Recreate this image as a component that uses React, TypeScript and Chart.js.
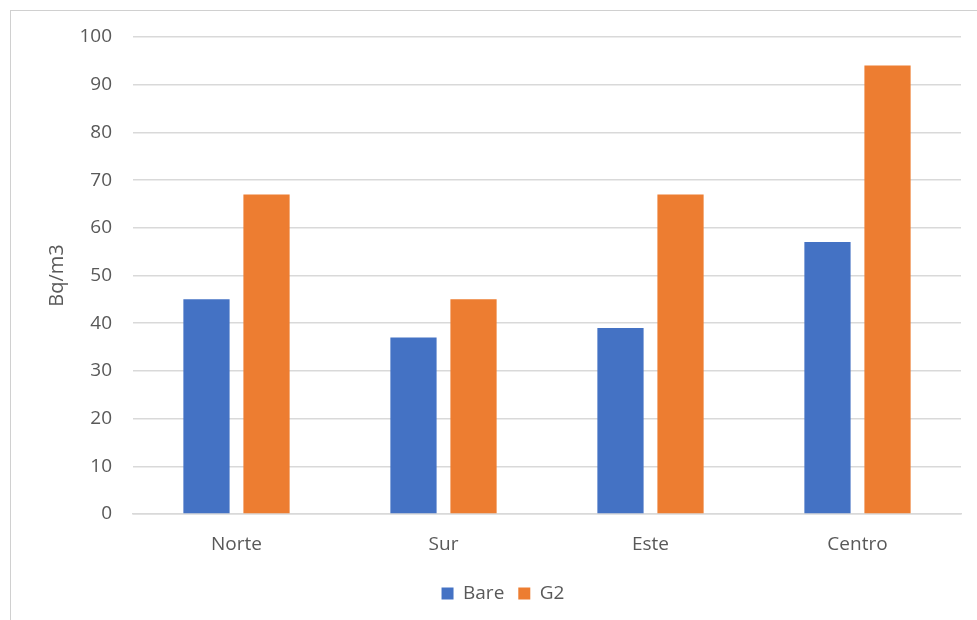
import React, { useEffect, useRef } from "react";
import { Chart, registerables } from "chart.js";

Chart.register(...registerables);

const categories = ["Norte", "Sur", "Este", "Centro"];
const bareValues = [45, 37, 39, 57];
const g2Values = [67, 45, 67, 94];
const yTicks = { min: 0, max: 100, step: 10 };
const yTitle = "Bq/m3";

const FONT = "'Open Sans', 'Noto Sans', sans-serif";
const TEXT = "#595959";

export default function App() {
  const ref = useRef<HTMLCanvasElement | null>(null);

  useEffect(() => {
    if (!ref.current) return;
    const chart = new Chart(ref.current, {
      type: "bar",
      data: {
        labels: categories,
        datasets: [
          {
            label: "Bare",
            data: bareValues,
            backgroundColor: "#4472C4",
            barPercentage: 0.77,
            categoryPercentage: 0.58,
          },
          {
            label: "G2",
            data: g2Values,
            backgroundColor: "#ED7D31",
            barPercentage: 0.77,
            categoryPercentage: 0.58,
          },
        ],
      },
      options: {
        animation: false,
        responsive: false,
        maintainAspectRatio: false,
        layout: { padding: { top: 37, right: 16, bottom: 7, left: 45 } },
        plugins: {
          tooltip: { enabled: false },
          legend: {
            position: "bottom",
            labels: {
              boxWidth: 12,
              boxHeight: 12,
              padding: 14,
              color: TEXT,
              font: { family: FONT, size: 19 },
            },
          },
        },
        scales: {
          x: {
            grid: { display: false, drawTicks: false },
            border: { color: "#d9d9d9", width: 1.5 },
            ticks: {
              color: TEXT,
              font: { family: FONT, size: 19 },
              padding: 19,
            },
            afterFit: (s: any) => {
              s.height = 56;
            },
          },
          y: {
            min: yTicks.min,
            max: yTicks.max,
            ticks: {
              stepSize: yTicks.step,
              color: TEXT,
              font: { family: FONT, size: 19 },
              padding: 21,
            },
            grid: { color: "#d9d9d9", lineWidth: 1.5, drawTicks: false },
            border: { display: false },
            title: {
              display: true,
              text: yTitle,
              color: TEXT,
              font: { family: FONT, size: 20 },
              padding: { top: 0, bottom: 0 },
            },
            afterFit: (s: any) => {
              s.width = 88;
            },
          },
        },
      },
    });
    return () => chart.destroy();
  }, []);

  return (
    <div style={{ position: "fixed", left: 0, top: 0, width: 977, height: 620, background: "#fff", overflow: "hidden" }}>
      <div
        style={{
          position: "absolute",
          left: 10,
          top: 10,
          width: 1000,
          height: 700,
          border: "1.5px solid #d0d0d0",
          boxSizing: "border-box",
        }}
      />
      <canvas ref={ref} width={977} height={620} style={{ position: "absolute", left: 0, top: 0 }} />
    </div>
  );
}
